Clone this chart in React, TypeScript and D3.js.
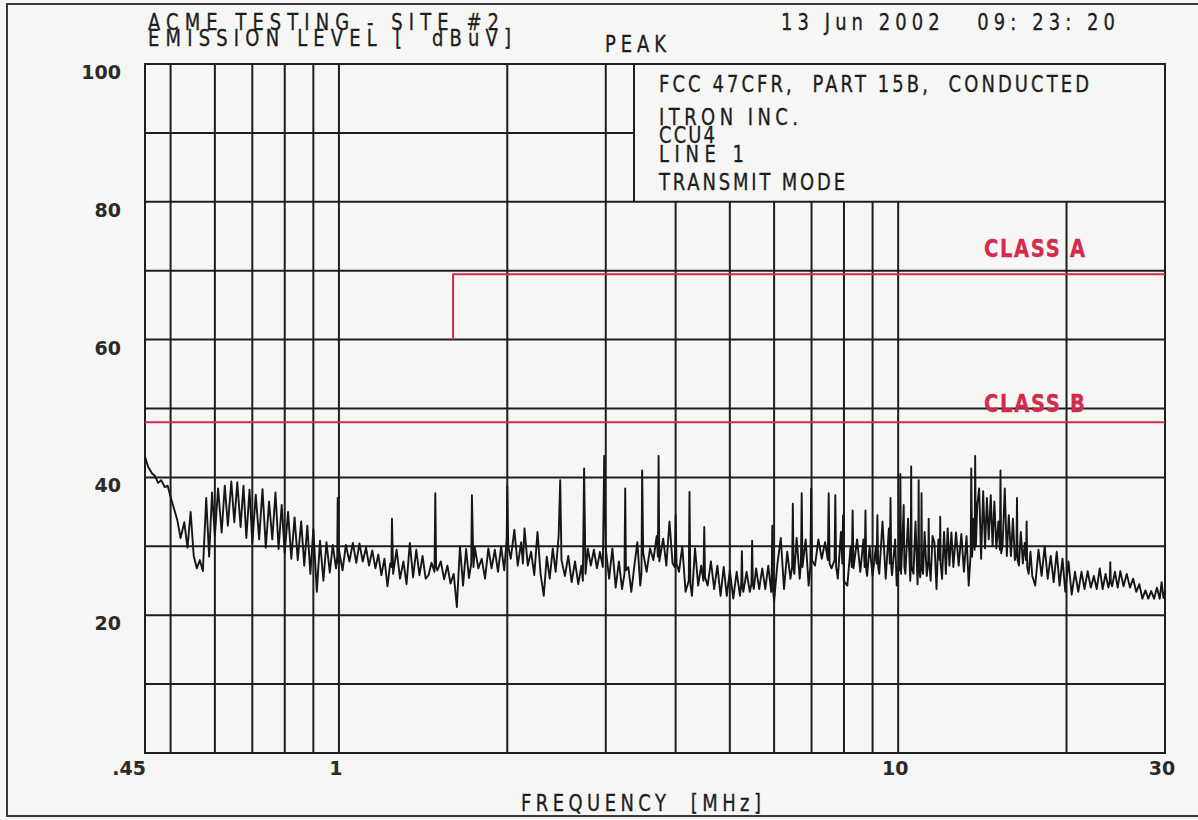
import React, { useEffect, useRef } from "react";
import * as d3 from "d3";

// peak sweep: [frequency MHz, level dBuV]
const trace: [number, number][] = [
  [0.45, 43.0], [0.456, 41.5], [0.463, 40.6], [0.469, 40.2], [0.475, 39.2], [0.481, 39.6], [0.488, 38.6], [0.494, 38.8], [0.5, 37.2],
  [0.507, 35.5], [0.514, 33.8], [0.521, 31.2], [0.529, 33.5], [0.536, 29.8], [0.543, 35.0], [0.55, 28.6],
  [0.557, 26.8], [0.564, 28.0], [0.571, 26.4], [0.579, 37.0], [0.586, 28.5], [0.593, 37.8], [0.6, 31.5],
  [0.608, 38.4], [0.617, 32.0], [0.625, 38.8], [0.633, 33.0], [0.642, 39.4], [0.65, 33.5], [0.658, 39.3], [0.667, 32.8],
  [0.675, 38.8], [0.683, 31.2], [0.692, 38.2], [0.7, 30.5],
  [0.71, 37.5], [0.72, 31.0], [0.73, 38.3], [0.74, 29.8], [0.75, 36.5], [0.76, 31.0], [0.77, 37.8], [0.78, 29.6], [0.79, 36.0], [0.8, 29.0],
  [0.811, 35.0], [0.822, 28.2], [0.833, 34.2], [0.844, 28.0], [0.856, 33.6], [0.867, 27.2], [0.878, 33.0], [0.889, 26.0], [0.9, 32.5],
  [0.913, 23.4], [0.925, 30.8], [0.938, 25.0], [0.95, 30.6], [0.963, 26.2], [0.975, 30.2], [0.988, 26.8], [0.993, 28.5], [0.995, 37.0], [0.998, 27.5], [1.0, 29.5],
  [1.015, 26.5], [1.029, 30.2], [1.044, 27.8], [1.059, 30.5], [1.074, 27.6], [1.088, 30.4], [1.103, 27.8], [1.118, 29.8], [1.132, 27.2],
  [1.147, 29.4], [1.162, 26.8], [1.176, 28.8], [1.191, 25.8], [1.206, 28.2], [1.221, 24.2], [1.235, 27.5], [1.241, 27.0], [1.244, 34.0], [1.25, 26.0],
  [1.268, 29.5], [1.286, 25.3], [1.304, 27.8], [1.321, 24.5], [1.339, 30.5], [1.357, 25.5], [1.375, 29.5], [1.393, 25.8], [1.411, 28.6],
  [1.429, 25.3], [1.446, 25.8], [1.464, 27.6], [1.482, 26.3], [1.487, 37.7], [1.492, 27.0], [1.5, 26.5],
  [1.521, 27.8], [1.542, 25.2], [1.563, 27.2], [1.583, 24.6], [1.604, 26.0], [1.625, 21.2], [1.646, 30.0], [1.667, 24.3], [1.688, 29.6],
  [1.708, 25.4], [1.724, 27.5], [1.729, 37.4], [1.74, 27.0], [1.75, 29.8],
  [1.775, 26.8], [1.8, 28.2], [1.825, 25.3], [1.85, 29.7], [1.875, 26.8], [1.9, 29.5], [1.925, 26.3], [1.95, 30.0], [1.975, 26.5], [1.995, 31.0], [2.0, 38.7], [2.008, 30.0],
  [2.029, 28.2], [2.059, 32.4], [2.088, 27.2], [2.118, 30.6], [2.133, 27.5], [2.147, 32.6], [2.176, 27.2], [2.206, 29.2], [2.235, 25.8],
  [2.265, 32.1], [2.294, 26.0], [2.324, 22.8], [2.353, 28.5], [2.382, 25.3], [2.412, 29.7], [2.441, 26.3], [2.471, 31.5], [2.487, 39.6], [2.5, 28.0],
  [2.536, 25.7], [2.571, 28.6], [2.607, 24.8], [2.643, 27.8], [2.679, 24.5], [2.714, 27.2], [2.73, 25.0], [2.744, 41.3], [2.76, 26.0],
  [2.786, 29.7], [2.821, 27.2], [2.857, 29.5], [2.893, 26.8], [2.929, 29.2], [2.964, 27.0], [2.981, 43.1], [3.0, 29.7],
  [3.042, 25.3], [3.083, 29.7], [3.125, 24.0], [3.167, 27.8], [3.208, 23.8], [3.24, 26.0], [3.25, 38.4], [3.26, 26.5], [3.292, 27.0],
  [3.333, 23.4], [3.375, 27.2], [3.417, 30.6], [3.458, 24.3], [3.475, 26.0], [3.485, 41.0], [3.5, 29.0],
  [3.55, 26.3], [3.6, 29.7], [3.65, 28.0], [3.7, 31.5], [3.718, 28.5], [3.729, 43.1], [3.74, 27.8], [3.8, 31.1], [3.85, 27.2],
  [3.9, 33.6], [3.95, 27.5], [3.985, 27.0], [4.0, 34.5], [4.015, 27.5],
  [4.056, 26.3], [4.111, 30.0], [4.167, 23.4], [4.222, 25.0], [4.235, 37.9], [4.25, 24.5], [4.278, 22.8], [4.333, 29.7], [4.389, 24.3],
  [4.444, 27.2], [4.485, 25.0], [4.5, 32.8], [4.515, 25.5],
  [4.563, 24.3], [4.625, 27.8], [4.688, 23.8], [4.75, 27.2], [4.813, 22.8], [4.875, 27.0], [4.938, 22.8], [5.0, 26.5],
  [5.071, 22.4], [5.143, 26.3], [5.214, 22.8], [5.24, 24.5], [5.255, 29.3], [5.27, 24.0], [5.286, 23.4], [5.357, 26.3], [5.429, 23.4],
  [5.465, 24.5], [5.481, 30.8], [5.497, 24.5], [5.52, 23.8], [5.571, 26.8], [5.643, 23.8], [5.714, 26.8], [5.786, 23.8], [5.857, 27.2],
  [5.929, 23.4], [5.94, 25.0], [5.955, 33.0], [5.97, 24.0], [6.0, 22.0],
  [6.083, 27.5], [6.167, 31.2], [6.25, 23.8], [6.333, 29.2], [6.417, 25.3], [6.462, 27.0], [6.481, 36.2], [6.5, 27.0], [6.52, 26.0],
  [6.583, 31.2], [6.667, 25.3], [6.7, 27.5], [6.722, 37.7], [6.744, 27.0], [6.833, 31.0], [6.917, 24.3], [6.965, 27.0], [6.989, 38.4], [7.013, 28.0],
  [7.1, 27.2], [7.2, 31.0], [7.3, 28.2], [7.4, 30.6], [7.485, 28.0], [7.512, 37.7], [7.54, 27.5], [7.6, 26.8], [7.695, 28.0], [7.72, 37.4],
  [7.745, 27.0], [7.8, 25.3], [7.9, 32.1], [7.945, 27.5], [7.97, 34.5], [7.995, 25.0],
  [8.111, 24.3], [8.222, 30.0], [8.26, 27.0], [8.29, 35.2], [8.32, 26.8], [8.444, 31.0], [8.556, 26.3], [8.667, 31.0], [8.71, 27.0],
  [8.74, 35.2], [8.77, 26.5], [8.8, 25.7], [8.889, 30.0], [9.0, 25.7],
  [9.125, 30.0], [9.15, 27.5], [9.18, 34.5], [9.21, 27.0], [9.25, 26.0], [9.375, 33.6], [9.5, 25.3], [9.625, 32.6], [9.66, 27.5],
  [9.69, 37.0], [9.72, 27.0], [9.75, 25.8], [9.875, 31.0], [9.94, 24.3], [10.0, 27.0],
  [10.06, 26.5], [10.09, 40.5], [10.12, 26.0], [10.2, 33.0], [10.23, 36.0], [10.26, 27.0], [10.3, 26.0], [10.415, 34.0], [10.51, 25.0],
  [10.53, 27.0], [10.55, 41.6], [10.57, 27.0], [10.65, 26.0], [10.74, 33.6], [10.83, 24.5], [10.86, 28.0], [10.88, 39.6], [10.9, 27.0],
  [10.95, 25.5], [10.99, 27.5], [11.01, 37.7], [11.03, 27.0], [11.08, 26.0], [11.15, 32.1], [11.25, 25.7], [11.32, 28.0], [11.34, 34.0],
  [11.36, 28.0], [11.43, 25.0], [11.52, 31.5], [11.61, 30.5], [11.71, 23.8], [11.8, 31.0], [11.87, 28.0], [11.89, 34.3], [11.91, 27.5],
  [11.98, 25.3], [12.08, 32.1], [12.17, 26.0], [12.26, 32.6], [12.35, 27.2], [12.45, 32.0],
  [12.55, 27.0], [12.69, 32.0], [12.83, 27.2], [12.97, 31.8], [13.11, 26.3], [13.25, 31.5], [13.37, 24.3], [13.48, 29.0], [13.51, 41.3],
  [13.56, 28.5], [13.62, 34.0], [13.7, 29.5], [13.73, 43.1], [13.77, 30.0], [13.85, 36.0], [13.96, 38.4], [14.07, 28.2], [14.19, 38.0],
  [14.3, 29.7], [14.41, 37.0], [14.52, 31.0], [14.64, 37.4], [14.75, 30.0], [14.86, 36.5], [14.98, 29.7],
  [15.11, 33.6], [15.2, 29.5], [15.24, 41.0], [15.28, 29.0], [15.37, 30.0], [15.51, 38.4], [15.64, 28.6], [15.77, 34.5], [15.91, 28.6],
  [16.04, 34.0], [16.17, 28.0], [16.27, 29.0], [16.31, 37.0], [16.35, 28.0], [16.44, 27.2], [16.57, 32.1], [16.71, 27.5], [16.84, 30.5],
  [16.93, 28.0], [16.97, 33.6], [17.01, 27.0], [17.11, 26.0], [17.24, 29.2], [17.37, 25.7],
  [17.58, 24.3], [17.82, 29.5], [18.05, 25.7], [18.28, 30.0], [18.51, 25.3], [18.74, 28.6], [18.97, 24.8], [19.21, 29.2], [19.44, 24.3],
  [19.67, 28.2], [19.9, 23.4],
  [20.16, 27.8], [20.43, 23.0], [20.71, 26.3], [20.99, 23.4], [21.27, 26.3], [21.54, 23.8], [21.82, 26.4], [22.1, 24.0], [22.38, 25.7],
  [22.65, 23.8], [22.93, 26.8], [23.21, 23.8], [23.49, 26.0], [23.76, 24.0], [23.9, 25.0], [23.95, 27.7], [24.0, 24.8], [24.13, 24.2],
  [24.41, 26.3], [24.69, 24.0], [24.96, 26.4],
  [25.29, 24.2], [25.63, 26.0], [25.97, 24.0], [26.31, 25.3], [26.65, 23.4], [26.99, 24.5], [27.33, 22.4], [27.67, 23.6], [28.01, 22.4],
  [28.34, 23.5], [28.68, 22.4], [29.02, 24.0], [29.36, 22.4], [29.58, 24.8], [29.81, 22.5], [30.0, 23.5],
];

// limit lines
const classA: [number, number][] = [[1.6, 60], [1.6, 69.5], [30, 69.5]];
const classB: [number, number][] = [[0.45, 48], [30, 48]];

const gridFreqs = [0.5, 0.6, 0.7, 0.8, 0.9, 1, 2, 3, 4, 5, 6, 7, 8, 9, 10, 20];
const gridLevels = [10, 20, 30, 40, 50, 60, 70, 80, 90];
const yTicks = [20, 40, 60, 80, 100];
const xTickValues = [0.45, 1, 10, 30];
const xTickLabels = [".45", "1", "10", "30"];
const infoLines = ["FCC 47CFR,  PART 15B,  CONDUCTED", "ITRON INC.", "CCU4", "LINE 1", "TRANSMIT MODE"];

const W = 1198;
const H = 820;
const plotFont = "'DejaVu Sans', sans-serif";
const digitFont = "'DejaVu Sans', Verdana, sans-serif";
const ink = "#1e1e1e";
const red = "#d42a4c";

function EmissionPlot() {
  const ref = useRef<SVGSVGElement>(null);

  useEffect(() => {
    const svg = d3.select(ref.current);
    svg.selectAll("*").remove();

    const left = 145, right = 1165, top = 64, bottom = 753;
    const x = d3.scaleLog().domain([0.45, 30]).range([left, right]);
    const y = d3.scaleLinear().domain([0, 100]).range([bottom, top]);

    // inset box occupies the top right corner of the grid
    const boxLeft = x(3.37);
    const boxBottom = y(80);

    svg.append("rect").attr("width", W).attr("height", H).attr("fill", "#f6f6f4");

    // page frame
    svg.append("path")
      .attr("d", `M${W},4H7V816H${W}`)
      .attr("fill", "none")
      .attr("stroke", "#3a3a3a")
      .attr("stroke-width", 2);

    const g = svg.append("g").attr("stroke", ink).attr("stroke-width", 2);

    gridFreqs.forEach((f) => {
      const y0 = x(f) > boxLeft ? boxBottom : top;
      g.append("line").attr("x1", x(f)).attr("x2", x(f)).attr("y1", y0).attr("y2", bottom);
    });
    gridLevels.forEach((v) => {
      const x1 = y(v) < boxBottom ? boxLeft : right;
      g.append("line").attr("x1", left).attr("x2", x1).attr("y1", y(v)).attr("y2", y(v));
    });
    g.append("line").attr("x1", boxLeft).attr("x2", boxLeft).attr("y1", top).attr("y2", boxBottom);
    g.append("rect")
      .attr("x", left).attr("y", top)
      .attr("width", right - left).attr("height", bottom - top)
      .attr("fill", "none");

    // limits
    const line = d3.line<[number, number]>().x((d) => x(d[0])).y((d) => y(d[1]));
    [classA, classB].forEach((lim) => {
      svg.append("path").datum(lim)
        .attr("fill", "none").attr("stroke", red).attr("stroke-width", 2)
        .attr("d", line);
    });

    // measured trace
    svg.append("path").datum(trace)
      .attr("fill", "none")
      .attr("stroke", "#161616")
      .attr("stroke-width", 1.9)
      .attr("stroke-linejoin", "round")
      .attr("d", line);

    // plotter lettering: tall, narrow glyphs spread out to a given width
    const squeeze = 0.78;
    const label = (txt: string, tx: number, ty: number, len: number, size = 23) =>
      svg.append("text")
        .attr("transform", `translate(${tx},${ty}) scale(${squeeze},1)`)
        .attr("textLength", len / squeeze).attr("lengthAdjust", "spacing")
        .style("white-space", "pre")
        .attr("font-family", plotFont)
        .attr("font-size", size)
        .attr("fill", ink)
        .attr("stroke", ink)
        .attr("stroke-width", 0.35)
        .text(txt);

    label("ACME TESTING - SITE #2", 148, 30, 351);
    label("EMISSION LEVEL [  dBuV]", 148, 46, 363);
    label("PEAK", 605, 52, 61);
    label("13 Jun 2002   09: 23: 20", 781, 30, 334);

    const lineY = [92, 125, 143, 162, 190];
    const lineLen = [430, 139, 56, 85, 186];
    infoLines.forEach((t, i) => label(t, 659, lineY[i], lineLen[i]));

    label("CLASS A", 984, 257, 101, 25).attr("fill", red).attr("stroke", red).attr("font-weight", "bold");
    label("CLASS B", 984, 412, 101, 25).attr("fill", red).attr("stroke", red).attr("font-weight", "bold");

    label("FREQUENCY  [MHz]", 521, 811, 240);

    // level ticks
    svg.append("g").selectAll("text").data(yTicks).join("text")
      .attr("x", 121).attr("y", (d) => y(d) + 15)
      .attr("text-anchor", "end")
      .attr("font-family", digitFont).attr("font-size", 19).attr("font-weight", "bold")
      .attr("fill", "#2a2a2a")
      .text((d) => d);

    // frequency ticks
    svg.append("g").selectAll("text").data(xTickValues).join("text")
      .attr("x", (d, i) => (i === 0 ? x(d) + 1 : x(d) - 3))
      .attr("y", 775)
      .attr("text-anchor", (d, i) => (i === 0 ? "end" : "middle"))
      .attr("font-family", digitFont).attr("font-size", 19).attr("font-weight", "bold")
      .attr("fill", "#2a2a2a")
      .text((d, i) => xTickLabels[i]);
  }, []);

  return <svg ref={ref} width={W} height={H} style={{ position: "absolute", left: 0, top: 0 }} />;
}

export default function App() {
  return (
    <div>
      <EmissionPlot />
    </div>
  );
}
